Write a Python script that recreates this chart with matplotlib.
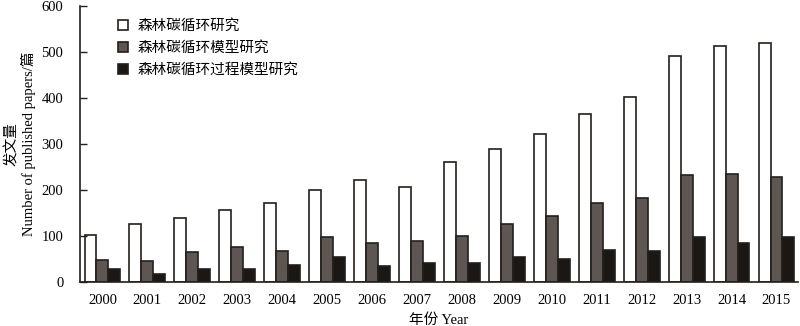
import matplotlib
matplotlib.use('Agg')
import matplotlib.pyplot as plt
import numpy as np

plt.rcParams['font.family'] = ['Liberation Serif', 'Noto Sans CJK SC']

years = ['2000', '2001', '2002', '2003', '2004', '2005', '2006', '2007',
         '2008', '2009', '2010', '2011', '2012', '2013', '2014', '2015']
carbon_cycle = [103, 127, 140, 157, 172, 199, 221, 206,
                261, 290, 322, 365, 402, 490, 513, 519]
cycle_model = [48, 46, 66, 77, 67, 97, 84, 88,
               100, 127, 144, 172, 183, 233, 234, 228]
process_model = [28, 17, 28, 29, 36, 55, 35, 41,
                 41, 54, 51, 70, 68, 98, 85, 97]
labels = ['森林碳循环研究', '森林碳循环模型研究', '森林碳循环过程模型研究']

edge = '#231f1c'
colors = ['white', '#5e5652', '#1b1714']

fig = plt.figure(figsize=(8, 3.26), dpi=100)
ax = fig.add_axes([0.1, 0.135, 0.897, 0.847])

x = np.arange(len(years))
w = 0.266
for i, (vals, c, lab) in enumerate(zip([carbon_cycle, cycle_model, process_model], colors, labels)):
    ax.bar(x + (i - 1) * w, vals, w, color=c, edgecolor=edge, linewidth=1.2, label=lab)

ax.set_xlim(-0.5, 15.47)
ax.set_ylim(0, 600)
ax.set_yticks(range(0, 601, 100))
ax.set_xticks(x)
ax.set_xticklabels(years)
ax.tick_params(axis='y', direction='in', length=5, width=1, pad=12, labelsize=10.5, color=edge)
ax.tick_params(axis='x', length=0, pad=9, labelsize=10.5)

for s in ['top', 'right']:
    ax.spines[s].set_visible(False)
for s in ['left', 'bottom']:
    ax.spines[s].set_linewidth(1.2)
    ax.spines[s].set_color(edge)

ax.set_xlabel('年份 Year', fontsize=10.5, labelpad=4)
ax.set_ylabel('发文量\nNumber of published papers/篇', fontsize=10.5, labelpad=4, linespacing=1.1)

leg = ax.legend(loc='upper left', bbox_to_anchor=(0.035, 1.0), frameon=False, fontsize=10.5,
                handlelength=0.7, handleheight=0.7, handletextpad=0.6, labelspacing=0.55)

fig.savefig('out.png', dpi=100)
